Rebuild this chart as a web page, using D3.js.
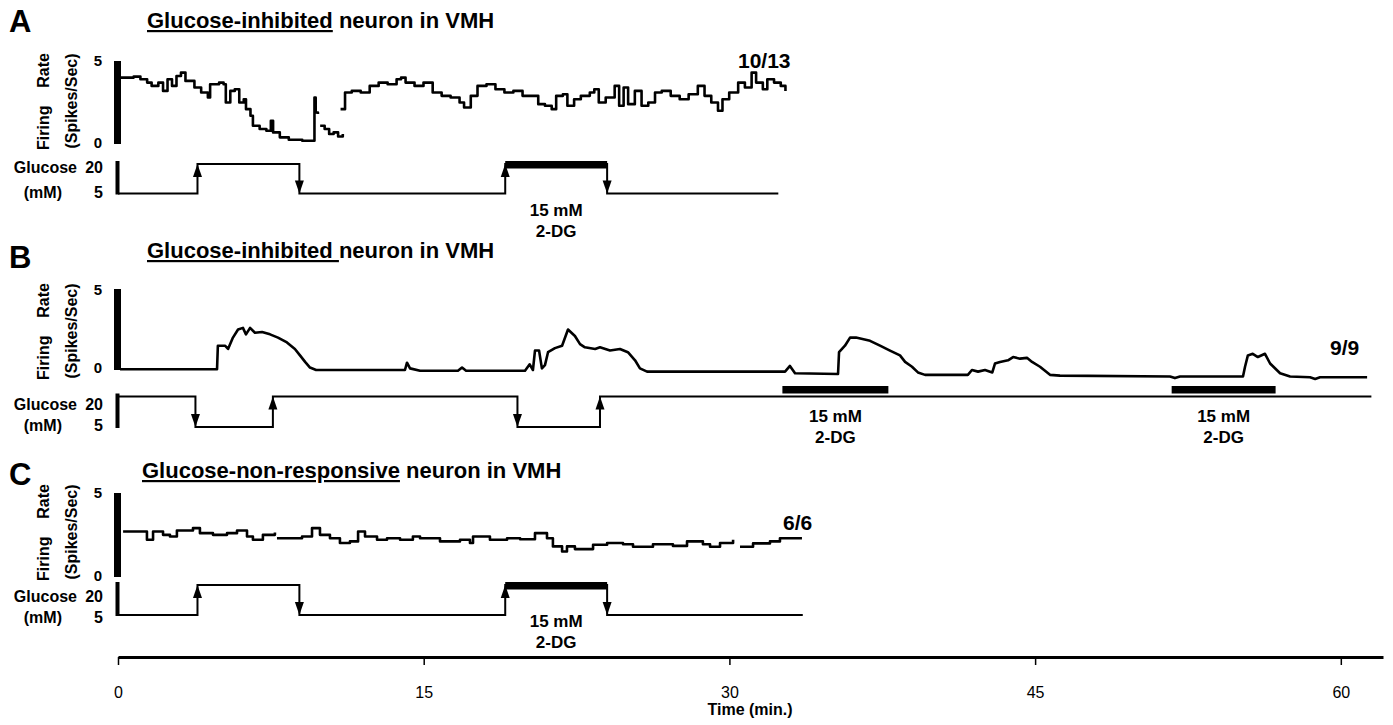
<!DOCTYPE html>
<html>
<head>
<meta charset="utf-8">
<script src="https://cdn.jsdelivr.net/npm/d3@7"></script>
<style>
  body { margin: 0; background: #fff; }
  svg text { font-family: "Liberation Sans", Arial, Helvetica, sans-serif; fill: #000; }
</style>
</head>
<body>
<script>
/* glucose-sensing neuron traces, three panels sharing one time axis */

// time axis ticks (min.)
const TIME_TICKS = [0, 15, 30, 45, 60];

// Panel A - glucose-inhibited neuron (NaN = gap in the trace)
const timeA = [0.11, 0.77, 1.10, 1.43, 1.65, 1.98, 2.21, 2.43, 2.65, 2.87, 3.09, 3.31, 3.75, 4.08, 4.41, 4.52,
	4.96, 5.18, 5.29, 5.51, 5.73, 5.95, 6.17, 6.28, 6.50, 6.62, 6.95, 7.28, 7.50, 7.61, 7.94, 8.38, 9.04,
	9.59, 9.64, 9.70, 9.81, NaN,
	9.92, 10.14, 10.36, 10.58, 10.80, 11.03, NaN,
	10.92, 11.14, 11.47, 11.91, 12.35, 12.79, 13.23, 13.67, 13.89, 14.11, 14.55, 14.99, 15.44, 15.88, 16.32,
	16.76, 16.98, 17.31, 17.64, 18.08, 18.52, 18.96, 19.40, 19.85, 20.29, 20.62, 20.95, 21.28, 21.50, 21.83,
	22.05, 22.38, 22.71, 23.15, 23.37, 23.59, 23.93, 24.37, 24.59, 24.81, 25.03, 25.36, 25.69, 26.02, 26.35,
	26.68, 27.12, 27.56, 28.00, 28.45, 28.78, 29.11, 29.44, 29.66, 29.99, 30.43, 30.76, 31.09, 31.31, 31.64,
	31.86, 32.19, 32.52, 32.75];
const rateA = [4.0, 4.06, 3.9, 3.7, 3.5, 3.7, 3.2, 3.9, 3.5, 4.1, 4.3, 3.8, 3.4, 3.1, 2.8, 3.6,
	3.7, 3.6, 2.5, 3.2, 3.3, 2.5, 2.7, 2.1, 1.7, 1.1, 0.9, 0.8, 1.4, 0.7, 0.4, 0.26, 0.2,
	0.2, 2.8, 1.9, 1.8, NaN,
	1.1, 0.9, 0.6, 0.7, 0.45, 0.6, NaN,
	2.1, 3.1, 3.2, 3.1, 3.5, 3.7, 3.6, 3.9, 4.0, 3.7, 3.5, 3.7, 3.1, 2.9, 2.8,
	2.5, 2.2, 2.9, 3.5, 3.6, 3.3, 3.1, 3.2, 2.9, 2.9, 2.4, 2.3, 2.1, 2.9, 3.0,
	2.3, 2.7, 2.9, 3.1, 3.3, 2.5, 2.8, 3.5, 2.3, 3.4, 2.4, 3.2, 2.3, 2.5, 3.1,
	3.2, 2.9, 2.7, 3.0, 3.5, 2.9, 2.5, 2.0, 2.7, 3.1, 3.7, 3.4, 4.3, 3.7, 3.3,
	3.9, 3.7, 3.5, 3.2];
const glucoseTimeA = [0, 3.9, 8.9, 19.0, 24.0, 32.4];
const glucoseLevelA = [5, 20, 5, 20, 5, 5];
const dgA = [[19.0, 24.0]];

// Panel B - glucose-inhibited neuron, low glucose and 2-DG
const timeB = [0.1, 4.86, 4.9, 5.25, 5.4, 5.64, 5.89, 6.13, 6.28, 6.48, 6.72, 7.07, 7.46, 7.85, 8.29, 8.68,
	8.93, 9.18, 9.42, 9.72, 14.08, 14.18, 14.33, 14.82, 16.68, 16.88, 17.08, 19.97, 20.2, 20.36, 20.46,
	20.66, 20.8, 20.95, 21.1, 21.44, 21.79, 22.08, 22.42, 22.67, 22.91, 23.41, 23.65, 24.14, 24.63, 25.02,
	25.37, 25.61, 25.96, 32.73, 32.97, 33.22, 35.33, 35.38, 35.67, 35.92, 36.21, 36.9, 37.39, 37.88, 38.37,
	38.62, 38.96, 39.25, 39.6, 41.7, 41.9, 42.2, 42.54, 42.9, 43.03, 43.28, 43.67, 43.92, 44.26, 44.6,
	44.85, 45.24, 45.73, 46.22, 51.62, 51.86, 52.11, 55.2, 55.3, 55.44, 55.68, 55.93, 56.28, 56.53, 57.02,
	57.51, 58.49, 58.74, 58.98, 61.29];
const rateB = [0.05, 0.05, 1.5, 1.5, 1.3, 2.0, 2.5, 2.6, 2.2, 2.6, 2.3, 2.35, 2.2, 2.0, 1.7, 1.3,
	0.9, 0.5, 0.15, 0.0, 0.0, 0.45, 0.1, -0.05, -0.05, 0.15, -0.05, -0.05, 0.35, 0.0, 1.2,
	1.2, 0.1, 0.3, 1.1, 1.35, 1.5, 2.5, 2.1, 1.6, 1.4, 1.3, 1.4, 1.2, 1.3, 1.1,
	0.6, 0.1, -0.1, -0.1, 0.25, -0.2, -0.25, 1.1, 1.5, 2.0, 2.0, 1.8, 1.5, 1.2, 0.9,
	0.5, 0.2, -0.15, -0.3, -0.3, 0.0, -0.1, 0.0, -0.15, 0.4, 0.5, 0.6, 0.8, 0.7, 0.75,
	0.5, 0.2, -0.3, -0.35, -0.4, -0.5, -0.4, -0.4, 0.2, 0.9, 1.0, 0.8, 1.0, 0.4, -0.2,
	-0.4, -0.45, -0.55, -0.45, -0.45];
const glucoseTimeB = [0, 3.8, 7.6, 19.6, 23.65, 61.5];
const glucoseLevelB = [20, 5, 20, 5, 20, 20];
const dgB = [[32.6, 37.8], [51.7, 56.8]];

// Panel C - glucose-non-responsive neuron
const timeC = [0.25, 0.74, 1.42, 1.72, 2.21, 2.55, 2.89, 3.68, 4.02, 4.66, 5.35, 5.84, 6.33, 6.62, 7.11, 7.70, NaN,
	7.80, 8.59, 9.03, 9.52, 9.91, 10.40, 10.89, 11.38, 11.78, 12.12, 12.71, 13.20, 13.84, 14.47, 14.82, 15.80,
	16.78, 17.27, 17.42, 18.25, 19.09, 19.73, 20.46, 21.05, 21.34, 21.79, 22.03, 22.42, 23.31, 24.0, 24.78,
	25.27, 26.25, 27.23, 27.92, 28.70, 29.05, 29.54, 30.18, NaN,
	30.52, 31.16, 31.99, 32.48, 33.56];
const rateC = [2.71, 2.71, 2.22, 2.71, 2.51, 2.41, 2.77, 2.91, 2.61, 2.51, 2.61, 2.77, 2.41, 2.22, 2.51, 2.65, NaN,
	2.31, 2.31, 2.41, 2.91, 2.51, 2.31, 2.02, 2.12, 2.71, 2.41, 2.22, 2.31, 2.22, 2.41, 2.31, 2.12,
	2.22, 2.02, 2.41, 2.22, 2.31, 2.25, 2.61, 2.31, 1.82, 1.52, 1.82, 1.66, 1.92, 2.02, 1.95,
	1.8, 1.95, 1.85, 2.12, 1.95, 1.8, 2.02, 2.22, NaN,
	1.8, 2.0, 2.12, 2.31, 2.31];
const glucoseTimeC = [0, 3.9, 8.9, 19.0, 24.0, 33.6];
const glucoseLevelC = [5, 20, 5, 20, 5, 5];
const dgC = [[19.0, 24.0]];


const width = 1393;
const height = 725;

var svg = d3.select('body')
	.append('svg')
	.attr('width', width)
	.attr('height', height);

// shared time scale
var xScale = d3.scaleLinear().domain([0, 62.07]).range([118, 1383]);

var panels = [
	{
		letter: 'A', letterY: 32,
		titleU: 'Glucose-inhibited', titleRest: ' neuron in VMH', titleX: 147, titleY: 28,
		time: timeA, rate: rateA, curve: d3.curveStepAfter,
		rateRange: [144, 61], gluRange: [193.5, 164],
		gTime: glucoseTimeA, gLevel: glucoseLevelA, dg: dgA, dgOnLine: true,
		dgLabelY: [216, 237],
		ratio: '10/13', ratioX: 738, ratioY: 68,
		labelMid: 101, tick5Y: 66, tick0Y: 148, gluTextY: [173, 198]
	},
	{
		letter: 'B', letterY: 268,
		titleU: 'Glucose-inhibited ', titleRest: 'neuron in VMH', titleX: 147, titleY: 258,
		time: timeB, rate: rateB, curve: d3.curveLinear,
		rateRange: [370, 289], gluRange: [427, 396.5],
		gTime: glucoseTimeB, gLevel: glucoseLevelB, dg: dgB, dgOnLine: false,
		dgLabelY: [422, 443],
		ratio: '9/9', ratioX: 1330, ratioY: 355,
		labelMid: 331, tick5Y: 295, tick0Y: 373, gluTextY: [410, 431]
	},
	{
		letter: 'C', letterY: 485,
		titleU: 'Glucose-non-responsive', titleRest: ' neuron in VMH', titleX: 142, titleY: 478,
		time: timeC, rate: rateC, curve: d3.curveStepAfter,
		rateRange: [577, 493], gluRange: [615, 585],
		gTime: glucoseTimeC, gLevel: glucoseLevelC, dg: dgC, dgOnLine: true,
		dgLabelY: [627, 648],
		ratio: '6/6', ratioX: 783, ratioY: 530,
		labelMid: 532, tick5Y: 498, tick0Y: 581, gluTextY: [602, 623]
	}
];

panels.forEach(function(p) {
	drawPanel(p);
});

drawTimeAxis();


// Draws one panel: letter, title, firing rate trace and the glucose protocol
function drawPanel(p) {

	var g = svg.append('g').classed('panel', true);

	var yRate = d3.scaleLinear().domain([0, 5]).range(p.rateRange);
	var yGlu = d3.scaleLinear().domain([5, 20]).range(p.gluRange);

	// panel letter
	g.append('text')
		.attr('x', 9).attr('y', p.letterY)
		.style('font-size', '31px').style('font-weight', 'bold')
		.text(p.letter);

	// title with underlined part
	var title = g.append('text')
		.attr('x', p.titleX).attr('y', p.titleY)
		.attr('xml:space', 'preserve')
		.style('font-size', '22px').style('font-weight', 'bold');
	title.append('tspan').style('text-decoration', 'underline').text(p.titleU);
	title.append('tspan').text(p.titleRest);

	// rate scale bar
	g.append('rect')
		.attr('x', 114).attr('width', 7)
		.attr('y', yRate(5)).attr('height', yRate(0) - yRate(5))
		.attr('fill', '#000');

	g.append('text').attr('x', 102).attr('y', p.tick5Y)
		.attr('text-anchor', 'end')
		.style('font-size', '15px').style('font-weight', 'bold').text('5');
	g.append('text').attr('x', 102).attr('y', p.tick0Y)
		.attr('text-anchor', 'end')
		.style('font-size', '15px').style('font-weight', 'bold').text('0');

	// rotated axis titles
	g.append('text')
		.attr('transform', `translate(49,${p.labelMid + 49}) rotate(-90)`)
		.style('font-size', '16px').style('font-weight', 'bold')
		.text('Firing');
	g.append('text')
		.attr('transform', `translate(49,${p.labelMid - 48}) rotate(-90)`)
		.attr('text-anchor', 'end')
		.style('font-size', '16px').style('font-weight', 'bold')
		.text('Rate');
	g.append('text')
		.attr('transform', `translate(77,${p.labelMid}) rotate(-90)`)
		.attr('text-anchor', 'middle')
		.style('font-size', '16px').style('font-weight', 'bold')
		.text('(Spikes/Sec)');

	// firing rate trace
	var rows = p.time.map((t, i) => ({ t: t, v: p.rate[i] }));
	var line = d3.line()
		.defined(d => !isNaN(d.t) && !isNaN(d.v))
		.x(d => xScale(d.t))
		.y(d => yRate(d.v))
		.curve(p.curve);

	g.append('path')
		.datum(rows)
		.attr('d', line)
		.attr('fill', 'none')
		.attr('stroke', '#000')
		.attr('stroke-width', 2.6)
		.attr('stroke-linejoin', 'round');

	if (p.ratio) {
		g.append('text').attr('x', p.ratioX).attr('y', p.ratioY)
			.style('font-size', '21px').style('font-weight', 'bold')
			.text(p.ratio);
	}

	drawGlucose(g, p, yGlu);
}


// Glucose protocol: step line, arrows on changes, 2-DG bars
function drawGlucose(g, p, yGlu) {

	// glucose scale bar
	g.append('rect')
		.attr('x', 115.5).attr('width', 4)
		.attr('y', yGlu(20) - 3).attr('height', yGlu(5) - yGlu(20) + 4)
		.attr('fill', '#000');

	g.append('text').attr('x', 77).attr('y', p.gluTextY[0])
		.attr('text-anchor', 'end')
		.style('font-size', '16px').style('font-weight', 'bold').text('Glucose');
	g.append('text').attr('x', 103).attr('y', p.gluTextY[0])
		.attr('text-anchor', 'end')
		.style('font-size', '16px').style('font-weight', 'bold').text('20');
	g.append('text').attr('x', 62).attr('y', p.gluTextY[1])
		.attr('text-anchor', 'end')
		.style('font-size', '16px').style('font-weight', 'bold').text('(mM)');
	g.append('text').attr('x', 103).attr('y', p.gluTextY[1])
		.attr('text-anchor', 'end')
		.style('font-size', '16px').style('font-weight', 'bold').text('5');

	var steps = p.gTime.map((t, i) => ({ t: t, v: p.gLevel[i] }));
	var stepLine = d3.line()
		.x(d => xScale(d.t))
		.y(d => yGlu(d.v))
		.curve(d3.curveStepAfter);

	g.append('path')
		.datum(steps)
		.attr('d', stepLine)
		.attr('fill', 'none')
		.attr('stroke', '#000')
		.attr('stroke-width', 2);

	// arrows at every change of glucose
	for (var i = 1; i < steps.length - 1; i++) {
		var prev = steps[i - 1].v;
		var next = steps[i].v;
		if (prev === next) continue;
		var ax = xScale(steps[i].t);
		var tip = yGlu(next);
		var dir = next > prev ? 1 : -1;   // 1 = pointing up
		var base = tip + dir * 13;
		g.append('path')
			.attr('d', `M${ax},${tip}L${ax - 4.5},${base}L${ax + 4.5},${base}Z`)
			.attr('fill', '#000');
	}

	// 2-DG bars and labels
	p.dg.forEach(function(r) {
		var x0 = xScale(r[0]);
		var x1 = xScale(r[1]);
		var top = p.dgOnLine ? yGlu(20) - 3 : yGlu(20) - 10.5;
		g.append('rect')
			.attr('x', x0).attr('width', x1 - x0)
			.attr('y', top).attr('height', 7.5)
			.attr('fill', '#000');

		var mid = (x0 + x1) / 2;
		g.append('text').attr('x', mid).attr('y', p.dgLabelY[0])
			.attr('text-anchor', 'middle')
			.style('font-size', '17px').style('font-weight', 'bold').text('15 mM');
		g.append('text').attr('x', mid).attr('y', p.dgLabelY[1])
			.attr('text-anchor', 'middle')
			.style('font-size', '17px').style('font-weight', 'bold').text('2-DG');
	});
}


// Bottom time axis shared by all panels
function drawTimeAxis() {

	var xAxis = d3.axisBottom(xScale)
		.tickValues(TIME_TICKS)
		.tickSize(8)
		.tickSizeOuter(0)
		.tickPadding(22);

	var axisGroup = svg.append('g')
		.classed('x axis', true)
		.attr('transform', `translate(0,${657})`)
		.call(xAxis);

	axisGroup.select('.domain').attr('stroke-width', 3);
	axisGroup.selectAll('.tick line').attr('stroke-width', 1.5);
	axisGroup.selectAll('.tick text')
		.style('font-size', '16px')
		.style('font-family', '"Liberation Sans Narrow", "Liberation Sans", Arial, sans-serif');

	svg.append('text')
		.attr('x', 750).attr('y', 715)
		.attr('text-anchor', 'middle')
		.style('font-size', '16px').style('font-weight', 'bold')
		.text('Time (min.)');
}
</script>
</body>
</html>
